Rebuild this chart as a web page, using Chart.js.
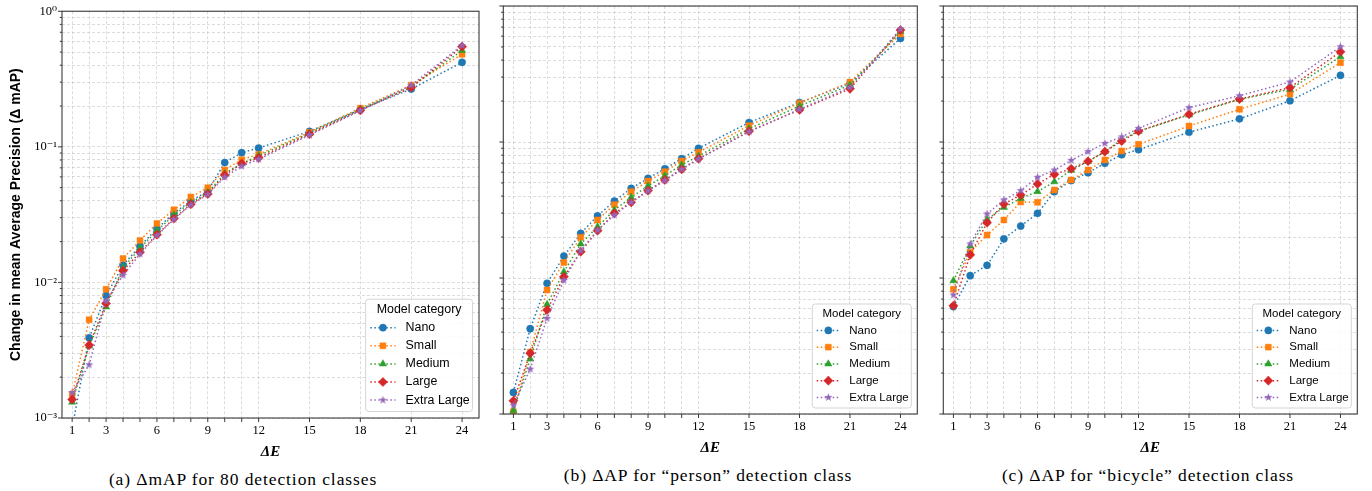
<!DOCTYPE html>
<html>
<head>
<meta charset="utf-8">
<script src="https://cdn.jsdelivr.net/npm/chart.js@4.4.1/dist/chart.umd.min.js"></script>
<style>
  body { margin: 0; background: #fff; width: 1372px; height: 491px; overflow: hidden; position: relative; }
  canvas { position: absolute; top: 0; }
  .caption { position: absolute; width: 460px; text-align: center; white-space: nowrap;
             font-family: "Liberation Serif", serif; font-size: 17.5px; letter-spacing: 0.9px; line-height: 20px; color: #000; }
</style>
</head>
<body>
<canvas id="chartA" width="490" height="462" style="left:0px"></canvas>
<canvas id="chartB" width="440" height="458" style="left:490px"></canvas>
<canvas id="chartC" width="442" height="458" style="left:930px"></canvas>
<div class="caption" style="left:13px;top:469px">(a) &Delta;mAP for 80 detection classes</div>
<div class="caption" style="left:478px;top:465px">(b) &Delta;AP for &ldquo;person&rdquo; detection class</div>
<div class="caption" style="left:918px;top:465px">(c) &Delta;AP for &ldquo;bicycle&rdquo; detection class</div>
<script>
// x values (epoch difference) and tick labels
const epochs = [1, 2, 3, 4, 5, 6, 7, 8, 9, 10, 11, 12, 15, 18, 21, 24];
const xTickLabels = [1, 3, 6, 9, 12, 15, 18, 21, 24];
const yMajorTicks = [0.001, 0.01, 0.1, 1];
const yTickLabels = ['10\u207B\u00B3', '10\u207B\u00B2', '10\u207B\u00B9', '10\u2070'];
const categories = ['Nano', 'Small', 'Medium', 'Large', 'Extra Large'];
const colors = ['#1f77b4', '#ff7f0e', '#2ca02c', '#d62728', '#9467bd'];
const serif = "'Liberation Serif', 'DejaVu Serif', serif";

// (a) delta mAP, 80 classes
const mapNano   = [0.00085, 0.0039, 0.0080, 0.0134, 0.0185, 0.0249, 0.0324, 0.0399, 0.0472, 0.0765, 0.0905, 0.098, 0.130, 0.188, 0.267, 0.420];
const mapSmall  = [0.00150, 0.0053, 0.0089, 0.0150, 0.0204, 0.0272, 0.0343, 0.0427, 0.0499, 0.0676, 0.0805, 0.088, 0.128, 0.193, 0.285, 0.481];
const mapMedium = [0.00131, 0.0034, 0.0066, 0.0128, 0.0179, 0.0240, 0.0315, 0.0388, 0.0461, 0.0635, 0.0752, 0.086, 0.126, 0.190, 0.277, 0.514];
const mapLarge  = [0.00137, 0.00345, 0.0070, 0.0122, 0.0167, 0.0225, 0.0296, 0.0377, 0.0449, 0.0618, 0.0752, 0.083, 0.124, 0.186, 0.274, 0.548];
const mapXL     = [0.00154, 0.00247, 0.0073, 0.0113, 0.0162, 0.0222, 0.0292, 0.0373, 0.0446, 0.0598, 0.0720, 0.081, 0.122, 0.185, 0.285, 0.560];

// (b) delta AP, "person"
const personNano   = [0.00144, 0.00424, 0.00914, 0.0145, 0.0213, 0.0286, 0.0368, 0.0456, 0.0540, 0.0636, 0.0754, 0.0899, 0.139, 0.195, 0.270, 0.578];
const personSmall  = [0.00104, 0.00285, 0.00816, 0.0130, 0.0199, 0.0267, 0.0346, 0.0431, 0.0516, 0.0605, 0.0725, 0.0840, 0.132, 0.193, 0.276, 0.623];
const personMedium = [0.00106, 0.00254, 0.00640, 0.0111, 0.0178, 0.0238, 0.0316, 0.0392, 0.0475, 0.0565, 0.0678, 0.0789, 0.125, 0.184, 0.262, 0.650];
const personLarge  = [0.00125, 0.00280, 0.00582, 0.0102, 0.0156, 0.0223, 0.0299, 0.0360, 0.0439, 0.0526, 0.0630, 0.0754, 0.120, 0.172, 0.246, 0.666];
const personXL     = [0.00116, 0.00214, 0.00505, 0.0096, 0.0159, 0.0225, 0.0290, 0.0360, 0.0437, 0.0520, 0.0630, 0.0750, 0.119, 0.174, 0.252, 0.678];

// (c) delta AP, "bicycle"
const bicycleNano   = [0.00616, 0.0104, 0.0124, 0.0194, 0.0241, 0.0299, 0.0431, 0.0520, 0.0595, 0.0697, 0.0807, 0.0878, 0.118, 0.148, 0.201, 0.309];
const bicycleSmall  = [0.00826, 0.0155, 0.0207, 0.0267, 0.0362, 0.0360, 0.0444, 0.0526, 0.0622, 0.0738, 0.0859, 0.0962, 0.131, 0.174, 0.225, 0.383];
const bicycleMedium = [0.00955, 0.0172, 0.0270, 0.0331, 0.0385, 0.0432, 0.0510, 0.0620, 0.0720, 0.0850, 0.1040, 0.1200, 0.158, 0.206, 0.244, 0.424];
const bicycleLarge  = [0.00625, 0.0148, 0.0255, 0.0350, 0.0407, 0.0491, 0.0578, 0.0636, 0.0722, 0.0849, 0.1016, 0.1200, 0.160, 0.207, 0.251, 0.461];
const bicycleXL     = [0.00750, 0.0178, 0.0296, 0.0375, 0.0439, 0.0550, 0.0622, 0.0733, 0.0849, 0.0978, 0.1090, 0.1260, 0.179, 0.219, 0.276, 0.502];

// minor log ticks 1..9 x 10^k
const yTickValues = [];
yMajorTicks.slice(0, -1).forEach(d => {
  for (let m = 1; m < 10; m++) yTickValues.push(+(m * d).toPrecision(3));
});
yTickValues.push(1);

function starImage(color, r) {
  const c = document.createElement('canvas');
  const size = Math.ceil(2 * r + 2);
  c.width = c.height = size;
  const g = c.getContext('2d');
  g.fillStyle = color;
  g.beginPath();
  for (let k = 0; k < 10; k++) {
    const rr = k % 2 ? r * 0.42 : r;
    const ang = -Math.PI / 2 + k * Math.PI / 5;
    g.lineTo(size / 2 + rr * Math.cos(ang), size / 2 + rr * Math.sin(ang));
  }
  g.closePath();
  g.fill();
  return c;
}

const pointStyles = ['circle', 'rect', 'triangle', 'rectRot', starImage(colors[4], 4.3)];
const pointRadii = [3.6, 4.2, 4.2, 4.6, 4.3];

var framePlugin = {
  id: 'frame',
  afterDraw(chart, args, opts) {
    const ctx = chart.ctx, a = chart.chartArea;
    const xs = chart.scales.x, ys = chart.scales.y;
    ctx.save();
    ctx.strokeStyle = '#3a3a3a';
    ctx.lineWidth = 1;
    ctx.beginPath();
    ys.ticks.forEach(t => {
      const y = ys.getPixelForValue(t.value);
      const len = yMajorTicks.includes(t.value) ? 4 : 2.2;
      ctx.moveTo(a.left, y);
      ctx.lineTo(a.left - len, y);
    });
    xs.ticks.forEach(t => {
      const x = xs.getPixelForValue(t.value);
      ctx.moveTo(x, a.bottom);
      ctx.lineTo(x, a.bottom + 4);
    });
    ctx.stroke();
    ctx.lineWidth = 1.1;
    ctx.strokeRect(a.left, a.top, a.right - a.left, a.bottom - a.top);

    // legend box
    const s = opts.scale || 1;
    const w = 99 * s, h = 104 * s;
    const bx = a.right - 6 * s - w, by = a.bottom - 6 * s - h;
    ctx.beginPath();
    ctx.roundRect(bx, by, w, h, 3);
    ctx.fillStyle = 'rgba(255,255,255,0.85)';
    ctx.fill();
    ctx.strokeStyle = '#d5d5d5';
    ctx.lineWidth = 1;
    ctx.stroke();
    ctx.font = (11.5 * s) + 'px "Liberation Sans"';
    ctx.fillStyle = '#000';
    ctx.textBaseline = 'middle';
    ctx.textAlign = 'center';
    ctx.fillText('Model category', bx + w / 2, by + 10 * s);
    ctx.textAlign = 'left';
    chart.data.datasets.forEach((ds, i) => {
      const y = by + 26.4 * s + i * 16.75 * s;
      const x0 = bx + 4.4 * s, x1 = bx + 27.7 * s;
      ctx.setLineDash(ds.borderDash);
      ctx.strokeStyle = ds.borderColor;
      ctx.lineWidth = ds.borderWidth;
      ctx.beginPath();
      ctx.moveTo(x0, y);
      ctx.lineTo(x1, y);
      ctx.stroke();
      ctx.setLineDash([]);
      ctx.fillStyle = ds.pointBackgroundColor;
      ctx.strokeStyle = ds.pointBorderColor;
      ctx.lineWidth = ds.pointBorderWidth;
      Chart.helpers.drawPoint(ctx, {pointStyle: ds.pointStyle, radius: ds.pointRadius, rotation: 0, borderWidth: ds.pointBorderWidth}, (x0 + x1) / 2, y);
      ctx.fillStyle = '#000';
      ctx.fillText(ds.label, bx + 37 * s, y);
    });
    ctx.restore();
  }
};

function makeChart(id, series, o) {
  return new Chart(document.getElementById(id), {
    type: 'line',
    data: {
      datasets: categories.map((name, i) => ({
        label: name,
        data: epochs.map((e, j) => ({x: e, y: series[i][j]})),
        borderColor: colors[i],
        borderWidth: 1.5,
        borderDash: [1.5, 2.5],
        pointStyle: pointStyles[i],
        pointRadius: pointRadii[i],
        pointBackgroundColor: colors[i],
        pointBorderColor: colors[i],
        pointBorderWidth: 0.5,
        fill: false,
        tension: 0,
        order: categories.length - i
      }))
    },
    options: {
      responsive: false,
      animation: false,
      devicePixelRatio: 1,
      events: [],
      layout: { padding: o.padding },
      plugins: {
        legend: { display: false },
        tooltip: { enabled: false },
        frame: { scale: o.legendScale }
      },
      scales: {
        x: {
          type: 'linear',
          min: 0.4,
          max: 25,
          afterBuildTicks: (scale) => { scale.ticks = epochs.map(v => ({value: v})); },
          afterFit: (scale) => { scale.height = o.xHeight; },
          ticks: {
            autoSkip: false,
            maxRotation: 0,
            padding: 5,
            color: '#000',
            font: { family: serif, size: 12.5 },
            callback: (v) => xTickLabels.includes(v) ? String(v) : ''
          },
          grid: { color: 'rgba(175,175,175,0.55)', lineWidth: 0.8, drawTicks: false },
          border: { display: false, dash: [3, 2] },
          title: {
            display: true,
            text: '\u0394E',
            color: '#000',
            font: { family: serif, size: 15, weight: 'bold', style: 'italic' },
            padding: { top: 0, bottom: 1 }
          }
        },
        y: {
          type: 'logarithmic',
          min: 0.001,
          max: 1,
          afterBuildTicks: (scale) => { scale.ticks = yTickValues.map(v => ({value: v})); },
          afterFit: (scale) => { scale.width = o.yWidth; },
          ticks: {
            display: o.yLabels,
            autoSkip: false,
            padding: 5,
            color: '#000',
            font: { family: serif, size: 12.5, lineHeight: 1 },
            callback: (v) => {
              const k = yMajorTicks.indexOf(v);
              return k >= 0 ? yTickLabels[k] : '';
            }
          },
          grid: { color: 'rgba(175,175,175,0.55)', lineWidth: 0.8, drawTicks: false },
          border: { display: false, dash: [3, 2] },
          title: {
            display: o.yLabels,
            text: 'Change in mean Average Precision (\u0394 mAP)',
            color: '#000',
            font: { family: 'Liberation Sans', size: 14, weight: 'bold' },
            padding: { top: 8, bottom: 0 }
          }
        }
      }
    },
    plugins: [framePlugin]
  });
}

makeChart('chartA', [mapNano, mapSmall, mapMedium, mapLarge, mapXL],
  { padding: {left: 0, top: 8, right: 11, bottom: 0}, xHeight: 44, yWidth: 62, yLabels: true, legendScale: 1.08 });
makeChart('chartB', [personNano, personSmall, personMedium, personLarge, personXL],
  { padding: {left: 0, top: 6, right: 12.7, bottom: 0}, xHeight: 44, yWidth: 13.3, yLabels: false, legendScale: 1 });
makeChart('chartC', [bicycleNano, bicycleSmall, bicycleMedium, bicycleLarge, bicycleXL],
  { padding: {left: 0, top: 6, right: 14.7, bottom: 0}, xHeight: 44, yWidth: 13.3, yLabels: false, legendScale: 1 });
</script>
</body>
</html>
